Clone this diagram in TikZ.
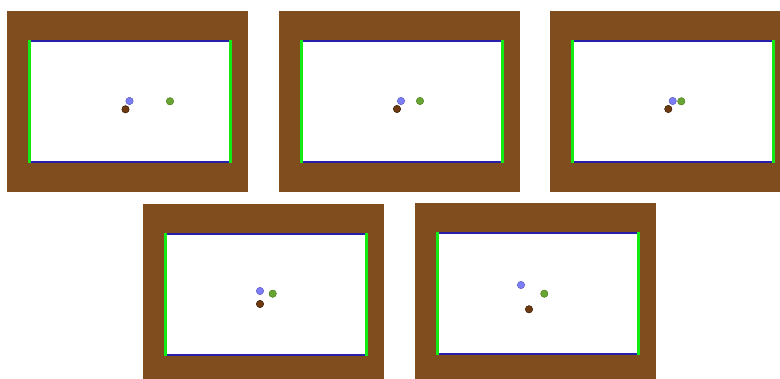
\documentclass[tikz,border=0pt]{standalone}
\definecolor{wood}{RGB}{128,78,30}
\definecolor{cushion}{RGB}{20,235,20}
\definecolor{rail}{RGB}{40,30,170}
\definecolor{ballblue}{RGB}{125,125,245}
\definecolor{ballgreen}{RGB}{105,165,50}
\definecolor{ballbrown}{RGB}{110,58,18}
\tikzset{
  woodframe/.style={fill=wood, draw=none},
  felt/.style={fill=white, draw=none},
  sideedge/.style={draw=cushion, line width=2.5pt},
  longedge/.style={draw=rail, line width=2pt},
  ballB/.style={fill=ballblue, draw=ballblue!80!black, line width=0.4pt},
  ballG/.style={fill=ballgreen, draw=ballgreen!80!black, line width=0.4pt},
  ballR/.style={fill=ballbrown, draw=ballbrown!60!black, line width=0.4pt},
}
% #1,#2: top-left of wooden frame; #3..#8: blue, green, brown ball centres
\newcommand{\tablepanel}[8]{%
  \begin{scope}[shift={(#1,#2)}]
    \fill[woodframe] (0,0) rectangle (241,181);
    \fill[felt] (21,29) rectangle (225,152);
    \draw[longedge] (21,30) -- (225,30);
    \draw[longedge] (21,151) -- (225,151);
    \draw[sideedge] (22.5,29) -- (22.5,152);
    \draw[sideedge] (223.5,29) -- (223.5,152);
  \end{scope}
  \fill[ballB] (#3) circle (3.6);
  \fill[ballG] (#4) circle (3.6);
  \fill[ballR] (#5) circle (3.6);
  \draw[ballB] (#3) circle (3.6);
  \draw[ballG] (#4) circle (3.6);
  \draw[ballR] (#5) circle (3.6);
}
\begin{document}
\begin{tikzpicture}[x=1pt,y=-1pt]
\fill[white] (0,0) rectangle (780,379);
\useasboundingbox (0,0) rectangle (780,379);
\clip (0,0) rectangle (780,379);
\tablepanel{7}{11}{129.5,101}{170,101.3}{125.5,109.3}{}{}{}
\tablepanel{279}{11}{401,101}{420,101}{397,109}{}{}{}
\tablepanel{550}{11}{672.7,101}{681.3,101.3}{668.3,109}{}{}{}
\tablepanel{143}{204}{260,291}{272.7,293.7}{260,304}{}{}{}
\tablepanel{415}{203.5}{521,285}{544.3,293.7}{529,309.3}{}{}{}
\end{tikzpicture}
\end{document}
